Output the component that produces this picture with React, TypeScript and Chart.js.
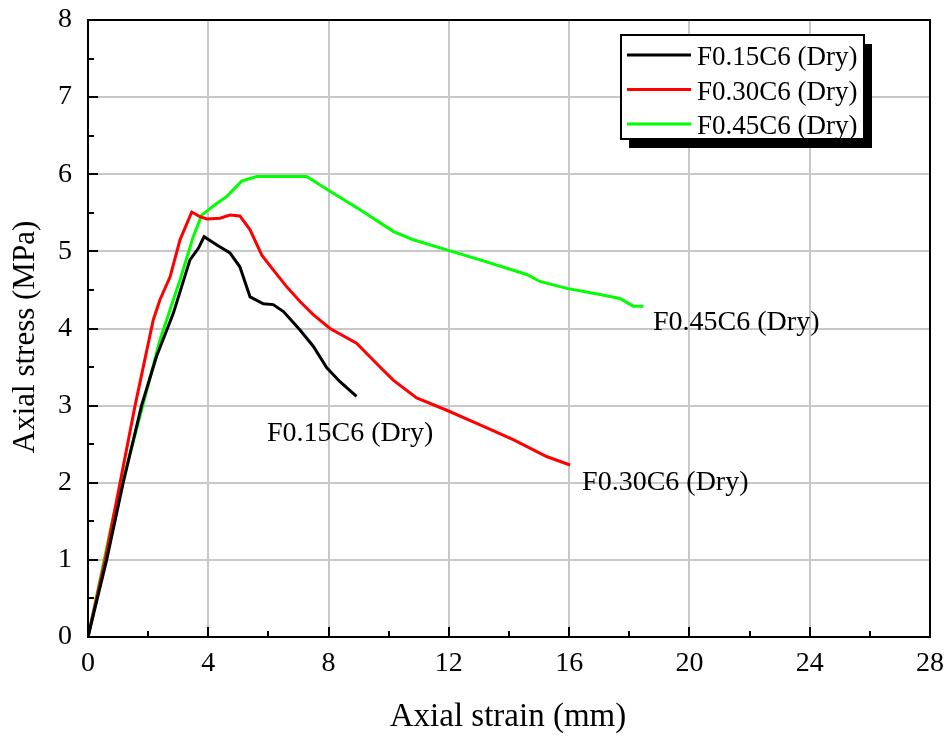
import React, { useEffect, useRef } from "react";
import { Chart, registerables } from "chart.js";

Chart.register(...registerables);

// ---- data ----
const seriesLabels = ["F0.15C6 (Dry)", "F0.30C6 (Dry)", "F0.45C6 (Dry)"];
const seriesColors = ["#000000", "#ff0000", "#00ff00"];

const blackX = [0, 0.62, 1.17, 1.78, 2.28, 2.84, 3.39, 3.67, 3.86, 4.3, 4.72, 5.05, 5.39, 5.83, 6.16, 6.5, 7.05, 7.49, 7.94, 8.38, 8.93];
const blackY = [0, 1.0, 2.0, 3.0, 3.64, 4.2, 4.89, 5.04, 5.19, 5.08, 4.98, 4.8, 4.41, 4.32, 4.31, 4.22, 3.98, 3.77, 3.49, 3.31, 3.12];

const redX = [0, 0.57, 1.56, 2.17, 2.39, 2.73, 3.06, 3.45, 3.72, 3.95, 4.39, 4.72, 5.05, 5.39, 5.78, 6.16, 6.61, 7.05, 7.49, 8.05, 8.93, 9.71, 10.15, 10.93, 11.93, 13.04, 14.14, 15.25, 16.03];
const redY = [0, 1.0, 2.99, 4.11, 4.37, 4.67, 5.15, 5.51, 5.45, 5.42, 5.43, 5.47, 5.46, 5.28, 4.95, 4.76, 4.54, 4.35, 4.18, 4.0, 3.81, 3.5, 3.33, 3.1, 2.94, 2.75, 2.56, 2.34, 2.23];

const greenX = [0, 0.84, 1.78, 2.39, 3.06, 3.5, 3.78, 4.28, 4.61, 5.11, 5.61, 7.27, 8.05, 9.05, 10.15, 10.82, 11.93, 13.04, 14.59, 15.03, 15.92, 17.03, 17.69, 18.13, 18.47];
const greenY = [0, 1.56, 2.94, 3.85, 4.63, 5.19, 5.47, 5.62, 5.71, 5.91, 5.97, 5.97, 5.78, 5.54, 5.26, 5.15, 5.02, 4.89, 4.7, 4.61, 4.52, 4.44, 4.39, 4.29, 4.29];

// curve-end annotations (data coordinates: left x, baseline y)
const annotationText = ["F0.15C6 (Dry)", "F0.30C6 (Dry)", "F0.45C6 (Dry)"];
const annotationX = [5.95, 16.43, 18.79];
const annotationY = [2.54, 1.91, 3.98];

const xTitle = "Axial strain (mm)";
const yTitle = "Axial stress (MPa)";

const FONT = "'Liberation Serif', 'Times New Roman', serif";

function pts(xs: number[], ys: number[]) {
  return xs.map((x, i) => ({ x, y: ys[i] }));
}

function noOverflow(s: any) {
  s.paddingTop = 0;
  s.paddingBottom = 0;
  s.paddingLeft = 0;
  s.paddingRight = 0;
}

const framePlugin = {
  id: "framePlugin",
  afterDraw(chart: any) {
    const { ctx, chartArea } = chart;
    const { left, right, top, bottom } = chartArea;
    const xs = chart.scales.x;
    const ys = chart.scales.y;
    ctx.save();
    // inward ticks
    ctx.strokeStyle = "#000";
    ctx.lineWidth = 2;
    for (let v = 0; v <= 28; v += 2) {
      const px = Math.round(xs.getPixelForValue(v));
      const len = v % 4 === 0 ? 10 : 6;
      ctx.beginPath();
      ctx.moveTo(px, bottom);
      ctx.lineTo(px, bottom - len);
      ctx.stroke();
    }
    for (let v = 0; v <= 8; v += 0.5) {
      const py = Math.round(ys.getPixelForValue(v));
      const len = v % 1 === 0 ? 10 : 6;
      ctx.beginPath();
      ctx.moveTo(left, py);
      ctx.lineTo(left + len, py);
      ctx.stroke();
    }
    // frame
    ctx.lineWidth = 2;
    ctx.strokeRect(left, top, right - left, bottom - top);

    // annotations
    ctx.fillStyle = "#000";
    ctx.font = `28px ${FONT}`;
    ctx.textBaseline = "alphabetic";
    ctx.textAlign = "left";
    annotationText.forEach((t, i) => {
      ctx.fillText(t, xs.getPixelForValue(annotationX[i]), ys.getPixelForValue(annotationY[i]));
    });

    // legend
    const lx = 621, ly = 35, lw = 243, lh = 104;
    ctx.fillStyle = "#000";
    ctx.fillRect(lx + 8, ly + 9, lw, lh);
    ctx.fillStyle = "#fff";
    ctx.fillRect(lx, ly, lw, lh);
    ctx.strokeStyle = "#000";
    ctx.lineWidth = 2;
    ctx.strokeRect(lx, ly, lw, lh);
    chart.data.datasets.forEach((ds: any, i: number) => {
      const cy = ly + 20 + i * 34.5;
      ctx.strokeStyle = ds.borderColor;
      ctx.lineWidth = 3;
      ctx.beginPath();
      ctx.moveTo(lx + 6, cy);
      ctx.lineTo(lx + 70, cy);
      ctx.stroke();
      ctx.fillStyle = "#000";
      ctx.font = `27px ${FONT}`;
      ctx.textBaseline = "alphabetic";
      ctx.fillText(ds.label, lx + 76, cy + 10);
    });

    // axis titles
    ctx.fillStyle = "#000";
    ctx.font = `33px ${FONT}`;
    ctx.textAlign = "center";
    ctx.textBaseline = "middle";
    ctx.fillText(xTitle, (left + right) / 2 - 1, 717);
    ctx.save();
    ctx.translate(26, 337);
    ctx.rotate(-Math.PI / 2);
    ctx.font = `31px ${FONT}`;
    ctx.fillText(yTitle, 0, 0);
    ctx.restore();
    ctx.restore();
  },
};

export default function App() {
  const ref = useRef<HTMLCanvasElement | null>(null);
  useEffect(() => {
    if (!ref.current) return;
    const colors = seriesColors;
    const chart = new Chart(ref.current, {
      type: "line",
      data: {
        datasets: [
          { label: seriesLabels[0], data: pts(blackX, blackY), borderColor: colors[0], backgroundColor: colors[0], borderWidth: 3, pointRadius: 0, tension: 0, fill: false },
          { label: seriesLabels[1], data: pts(redX, redY), borderColor: colors[1], backgroundColor: colors[1], borderWidth: 3, pointRadius: 0, tension: 0, fill: false },
          { label: seriesLabels[2], data: pts(greenX, greenY), borderColor: colors[2], backgroundColor: colors[2], borderWidth: 3, pointRadius: 0, tension: 0, fill: false },
        ],
      },
      options: {
        animation: false,
        responsive: false,
        devicePixelRatio: 1,
        layout: { padding: { left: 0, top: 20, right: 15, bottom: 0 } },
        plugins: { legend: { display: false }, tooltip: { enabled: false } },
        scales: {
          x: {
            type: "linear",
            min: 0,
            max: 28,
            afterFit: (s: any) => { s.height = 99; noOverflow(s); },
            ticks: { stepSize: 4, color: "#000", font: { family: FONT, size: 28 }, padding: 10, maxRotation: 0 },
            grid: { color: "#c8c8c8", lineWidth: 2, drawTicks: false },
            border: { display: false },
          },
          y: {
            type: "linear",
            min: 0,
            max: 8,
            afterFit: (s: any) => { s.width = 88; noOverflow(s); },
            ticks: { stepSize: 1, color: "#000", font: { family: FONT, size: 28 }, padding: 16 },
            grid: { color: "#c8c8c8", lineWidth: 2, drawTicks: false },
            border: { display: false },
          },
        },
      },
      plugins: [framePlugin],
    } as any);
    return () => chart.destroy();
  }, []);
  return (
    <div style={{ position: "fixed", left: 0, top: 0, width: 945, height: 736, background: "#fff" }}>
      <canvas ref={ref} width={945} height={736} />
    </div>
  );
}
